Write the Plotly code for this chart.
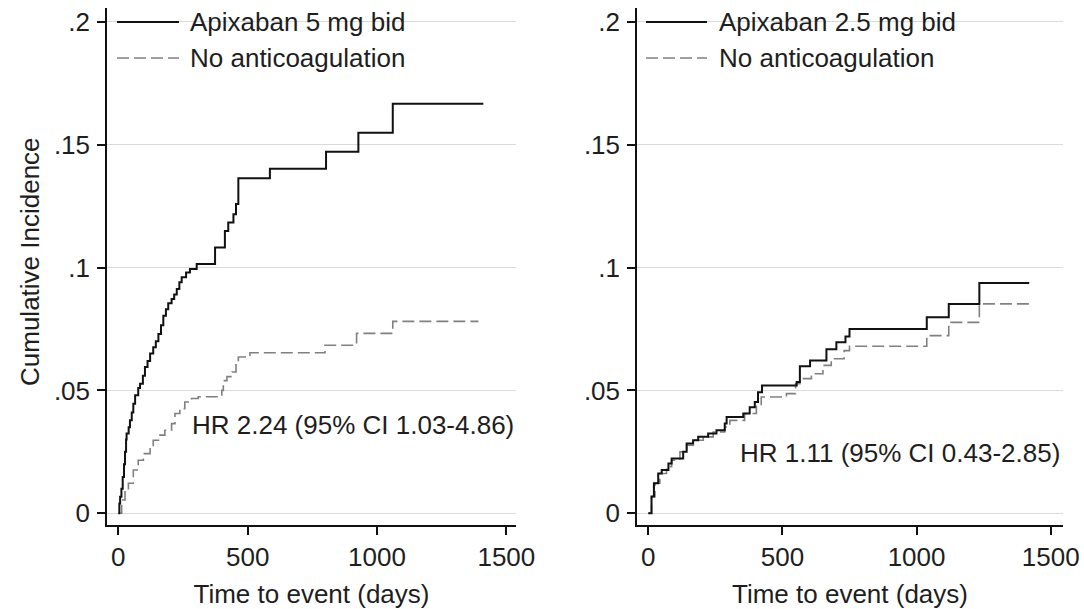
import plotly.graph_objects as go

W, H = 1084, 609

# ---------------- data ----------------
# Left panel: Apixaban 5 mg bid vs No anticoagulation
left_apix_days = [0, 4, 7, 12, 17, 22, 26, 30, 32, 40, 45, 52, 58, 65, 77, 84, 95, 103, 113, 123,
                  135, 145, 155, 165, 174, 184, 193, 206, 216, 226, 236, 245, 262, 277, 303, 374,
                  412, 425, 445, 455, 464, 586, 803, 928, 1061, 1411]
left_apix_ci = [0.0, 0.004, 0.0067, 0.010, 0.0148, 0.020, 0.025, 0.030, 0.0325, 0.035, 0.0379, 0.041,
                0.0446, 0.048, 0.051, 0.0527, 0.056, 0.0595, 0.062, 0.065, 0.0676, 0.070, 0.073, 0.0765,
                0.0804, 0.083, 0.0855, 0.0872, 0.089, 0.0913, 0.094, 0.096, 0.098, 0.0994, 0.1014, 0.1082,
                0.1149, 0.1183, 0.1217, 0.1258, 0.1363, 0.1402, 0.1471, 0.1548, 0.1666, 0.1666]

left_none_days = [0, 13, 26, 39, 58, 77, 97, 123, 135, 161, 180, 206, 219, 238, 257, 283, 309, 400,
                  406, 420, 440, 455, 464, 509, 799, 921, 1061, 1392]
left_none_ci = [0.0, 0.0054, 0.0095, 0.0122, 0.0176, 0.0216, 0.0243, 0.0270, 0.0297, 0.0318, 0.0338,
                0.0365, 0.0406, 0.0426, 0.0453, 0.0467, 0.0474, 0.0500, 0.0540, 0.0556, 0.0575, 0.0610,
                0.0636, 0.0653, 0.0684, 0.0732, 0.0781, 0.0781]

# Right panel: Apixaban 2.5 mg bid vs No anticoagulation
right_apix_days = [0, 12, 21, 37, 50, 75, 87, 130, 143, 167, 186, 223, 254, 285, 292, 354, 378, 397,
                   409, 424, 553, 565, 603, 664, 701, 735, 750, 1038, 1120, 1234, 1420]
right_apix_ci = [0.0, 0.0068, 0.0122, 0.0162, 0.0176, 0.0203, 0.0223, 0.0250, 0.0284, 0.0297, 0.0311,
                 0.0325, 0.0338, 0.0365, 0.0392, 0.0406, 0.0432, 0.0453, 0.0493, 0.0520, 0.0534, 0.0598,
                 0.0622, 0.0667, 0.0696, 0.0719, 0.0750, 0.0798, 0.0852, 0.0937, 0.0937]

right_none_days = [0, 12, 25, 43, 68, 87, 118, 143, 174, 205, 242, 285, 304, 359, 403, 421, 515, 549,
                   565, 608, 651, 682, 730, 750, 1038, 1120, 1234, 1420]
right_none_ci = [0.0, 0.0068, 0.0122, 0.0162, 0.0190, 0.0216, 0.0250, 0.0277, 0.0297, 0.0311, 0.0331,
                 0.0351, 0.0378, 0.0406, 0.0439, 0.0473, 0.0487, 0.0527, 0.0548, 0.0568, 0.0602, 0.0629,
                 0.0662, 0.0680, 0.0723, 0.0777, 0.0852, 0.0852]

y_tick_vals = [0, 0.05, 0.1, 0.15, 0.2]
y_tick_text = ["0", ".05", ".1", ".15", ".2"]
x_tick_vals = [0, 500, 1000, 1500]
x_tick_text = ["0", "500", "1000", "1500"]

left_legend = ["Apixaban 5 mg bid", "No anticoagulation"]
right_legend = ["Apixaban 2.5 mg bid", "No anticoagulation"]
left_hr = "HR 2.24 (95% CI 1.03-4.86)"
right_hr = "HR 1.11 (95% CI 0.43-2.85)"
x_title = "Time to event (days)"
y_title = "Cumulative Incidence"

# ---------------- styling ----------------
FONT = "Liberation Sans, Arial, Helvetica, sans-serif"
TXT = "#1e1e1e"
FS = 26
SOLID = dict(color="#111111", width=2)
DASHED = dict(color="#808080", width=1.6, dash="12px,5px")


def px_x(p):
    return p / W


def px_y(p):
    return 1 - p / H


fig = go.Figure()

fig.add_trace(go.Scatter(x=left_none_days, y=left_none_ci, mode="lines", line_shape="hv",
                         line=DASHED, name=left_legend[1], xaxis="x", yaxis="y", showlegend=False))
fig.add_trace(go.Scatter(x=left_apix_days, y=left_apix_ci, mode="lines", line_shape="hv",
                         line=SOLID, name=left_legend[0], xaxis="x", yaxis="y", showlegend=False))
fig.add_trace(go.Scatter(x=right_none_days, y=right_none_ci, mode="lines", line_shape="hv",
                         line=DASHED, name=right_legend[1], xaxis="x2", yaxis="y2", showlegend=False))
fig.add_trace(go.Scatter(x=right_apix_days, y=right_apix_ci, mode="lines", line_shape="hv",
                         line=SOLID, name=right_legend[0], xaxis="x2", yaxis="y2", showlegend=False))

y_dom = [1 - 525 / H, 1 - 8 / H]
y_rng = [-0.00476, 0.2056]

xcommon = dict(showline=True, linecolor="#111111", linewidth=1.5, ticks="outside", ticklen=8,
               tickwidth=1.5, tickcolor="#111111", tickvals=x_tick_vals, ticktext=x_tick_text,
               showgrid=False, zeroline=False, automargin=False,
               tickfont=dict(family=FONT, size=FS, color=TXT),
               title=dict(text=x_title, font=dict(family=FONT, size=FS, color=TXT), standoff=14))
ycommon = dict(showline=True, linecolor="#111111", linewidth=1.5, ticks="outside", ticklen=8,
               tickwidth=1.5, tickcolor="#111111", tickvals=y_tick_vals, ticktext=y_tick_text,
               showgrid=True, gridcolor="#dadada", gridwidth=1, zeroline=False, range=y_rng,
               domain=y_dom, automargin=False,
               tickfont=dict(family=FONT, size=FS, color=TXT), ticklabelstandoff=2)

fig.update_layout(
    width=W, height=H,
    margin=dict(l=0, r=0, t=0, b=0, autoexpand=False),
    paper_bgcolor="white", plot_bgcolor="white",
    font=dict(family=FONT, size=FS, color=TXT),
    xaxis=dict(domain=[px_x(107), px_x(516)], range=[-43.7, 1537.3], anchor="y", **xcommon),
    yaxis=dict(anchor="x", **ycommon),
    xaxis2=dict(domain=[px_x(637), px_x(1063)], range=[-42.1, 1545.8], anchor="y2", **xcommon),
    yaxis2=dict(anchor="x2", **ycommon),
)

annotations = []
shapes = []

# y axis title (left panel only)
annotations.append(dict(text=y_title, x=px_x(30), y=px_y(262), xref="paper", yref="paper",
                        textangle=-90, showarrow=False, xanchor="center", yanchor="middle",
                        font=dict(family=FONT, size=FS, color=TXT)))

# legends drawn inside each panel (Stata style)
for (lx0, lx1, tx, labels) in [(117, 179, 188, left_legend), (646, 707, 717, right_legend)]:
    for row, (py, lab) in enumerate(zip([22, 58], labels)):
        style = SOLID if row == 0 else DASHED
        shapes.append(dict(type="line", xref="paper", yref="paper",
                           x0=px_x(lx0), x1=px_x(lx1), y0=px_y(py), y1=px_y(py),
                           line=dict(color=style["color"], width=style["width"],
                                     dash=style.get("dash", "solid"))))
        annotations.append(dict(text=lab, x=px_x(tx), y=px_y(py), xref="paper", yref="paper",
                                showarrow=False, xanchor="left", yanchor="middle",
                                font=dict(family=FONT, size=FS, color=TXT)))

# HR annotations
annotations.append(dict(text=left_hr, x=px_x(190), y=px_y(425), xref="paper", yref="paper",
                        showarrow=False, xanchor="left", yanchor="middle",
                        font=dict(family=FONT, size=FS, color=TXT)))
annotations.append(dict(text=right_hr, x=px_x(738), y=px_y(453), xref="paper", yref="paper",
                        showarrow=False, xanchor="left", yanchor="middle",
                        font=dict(family=FONT, size=FS, color=TXT)))

fig.update_layout(annotations=annotations, shapes=shapes)

fig.write_html("out.html")
